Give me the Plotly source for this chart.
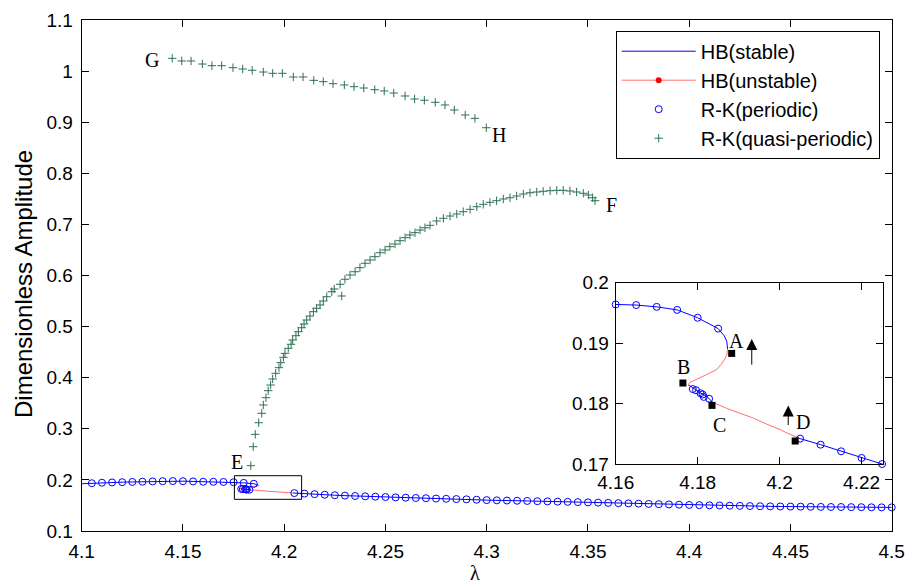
import numpy as np
import plotly.graph_objects as go

# ---------------- data ----------------
# HB stable branch 1 (up to turning point A)
hb_s1_x = [4.100, 4.105, 4.110, 4.115, 4.120, 4.125, 4.130, 4.135, 4.140, 4.145, 4.150, 4.155,
           4.160, 4.165, 4.170, 4.175, 4.180, 4.185, 4.1865, 4.1871, 4.1873, 4.1873]
hb_s1_y = [0.1925, 0.1935, 0.1945, 0.1950, 0.1955, 0.1960, 0.1965, 0.1970, 0.1975, 0.1977, 0.1975, 0.1970,
           0.1964, 0.1963, 0.1960, 0.1955, 0.1942, 0.1924, 0.1912, 0.1903, 0.1896, 0.1890]
# HB unstable A -> B
hb_u1_x = [4.1873, 4.1871, 4.1862, 4.1846, 4.1822, 4.1798, 4.1781, 4.1777]
hb_u1_y = [0.1890, 0.1880, 0.1869, 0.1856, 0.1848, 0.1840, 0.1835, 0.1831]
# HB stable B -> C
hb_s2_x = [4.1777, 4.1789, 4.1806, 4.1822, 4.1837]
hb_s2_y = [0.1831, 0.1825, 0.1818, 0.1812, 0.1802]
# HB unstable C -> D
hb_u2_x = [4.1837, 4.1846, 4.1871, 4.1903, 4.1936, 4.1968, 4.2001, 4.2025, 4.2043]
hb_u2_y = [0.1802, 0.1799, 0.1792, 0.1784, 0.1776, 0.1766, 0.1757, 0.1749, 0.1744]
# HB stable after D
hb_s3_x = [4.2043, 4.205, 4.210, 4.215, 4.220, 4.225, 4.230, 4.240, 4.250, 4.260, 4.270, 4.280,
           4.290, 4.300, 4.320, 4.340, 4.360, 4.380, 4.400, 4.420, 4.440, 4.460, 4.480, 4.500]
hb_s3_y = [0.1744, 0.1742, 0.1732, 0.1721, 0.1710, 0.1700, 0.1692, 0.1678, 0.1665, 0.1652, 0.1641, 0.1630,
           0.1620, 0.1604, 0.1588, 0.1570, 0.1550, 0.1530, 0.1510, 0.1495, 0.1482, 0.1474, 0.1467, 0.1462]

# R-K periodic
rk_p_x = [4.105, 4.110, 4.115, 4.120, 4.125, 4.130, 4.135, 4.140, 4.145, 4.150, 4.155, 4.160,
          4.165, 4.170, 4.175, 4.180, 4.185,
          4.1788, 4.1796, 4.1807, 4.1812, 4.1815, 4.1828,
          4.205, 4.210, 4.215, 4.220, 4.225, 4.230, 4.235, 4.240, 4.245, 4.250, 4.255, 4.260,
          4.265, 4.270, 4.275, 4.280, 4.285, 4.290, 4.295, 4.300, 4.305, 4.310, 4.315, 4.320,
          4.325, 4.330, 4.335, 4.340, 4.345, 4.350, 4.355, 4.360, 4.365, 4.370, 4.375, 4.380,
          4.385, 4.390, 4.395, 4.400, 4.405, 4.410, 4.415, 4.420, 4.425, 4.430, 4.435, 4.440,
          4.445, 4.450, 4.455, 4.460, 4.465, 4.470, 4.475, 4.480, 4.485, 4.490, 4.495, 4.500]
rk_p_y = [0.1935, 0.1945, 0.1950, 0.1955, 0.1960, 0.1965, 0.1970, 0.1975, 0.1977, 0.1975, 0.1970, 0.1964,
          0.1963, 0.1960, 0.1955, 0.1942, 0.1924,
          0.1824, 0.1822, 0.1817, 0.1815, 0.1811, 0.1808,
          0.1742, 0.1732, 0.1721, 0.1710, 0.1700, 0.1692, 0.1685, 0.1678, 0.1671, 0.1665, 0.1658, 0.1652,
          0.1646, 0.1641, 0.1635, 0.1630, 0.1625, 0.1620, 0.1612, 0.1604, 0.1600, 0.1596, 0.1592, 0.1588,
          0.1583, 0.1579, 0.1574, 0.1570, 0.1565, 0.1560, 0.1555, 0.1550, 0.1545, 0.1540, 0.1535, 0.1530,
          0.1525, 0.1520, 0.1515, 0.1510, 0.1506, 0.1502, 0.1499, 0.1495, 0.1492, 0.1488, 0.1485, 0.1482,
          0.1480, 0.1478, 0.1476, 0.1474, 0.1472, 0.1470, 0.1469, 0.1467, 0.1466, 0.1464, 0.1463, 0.1462]

# R-K quasi-periodic, upper branch G-H
qp_hi_x = [4.1447, 4.1494, 4.1540, 4.1596, 4.1643, 4.1691, 4.1747, 4.1795, 4.1842, 4.1897, 4.1943,
           4.1991, 4.2045, 4.2093, 4.2146, 4.2193, 4.2241, 4.2297, 4.2345, 4.2393, 4.2447, 4.2494,
           4.2541, 4.2597, 4.2644, 4.2692, 4.2746, 4.2794, 4.2840, 4.2894, 4.2942, 4.2998]
qp_hi_y = [1.0250, 1.0198, 1.0198, 1.0139, 1.0106, 1.0106, 1.0067, 1.0041, 1.0016, 0.9982, 0.9957,
           0.9957, 0.9885, 0.9885, 0.9819, 0.9793, 0.9754, 0.9728, 0.9695, 0.9669, 0.9636, 0.9611,
           0.9571, 0.9513, 0.9454, 0.9429, 0.9389, 0.9337, 0.9239, 0.9141, 0.9076, 0.8892]
# R-K quasi-periodic, lower branch E-F
qp_lo_x = [4.1835, 4.1847, 4.1857, 4.1874, 4.1889, 4.1897, 4.1910, 4.1921, 4.1933, 4.1943, 4.1958,
           4.1974, 4.1983, 4.1996, 4.2004, 4.2020, 4.2034, 4.2042, 4.2058, 4.2070, 4.2086, 4.2098,
           4.2111, 4.2127, 4.2144, 4.2160, 4.2177, 4.2193, 4.2210, 4.2235, 4.2247, 4.2284, 4.2276,
           4.2300, 4.2325, 4.2350, 4.2374, 4.2399, 4.2424, 4.2448, 4.2473, 4.2498, 4.2522, 4.2547,
           4.2572, 4.2597, 4.2621, 4.2646, 4.2671, 4.2695, 4.2720, 4.2753, 4.2786, 4.2819, 4.2852,
           4.2884, 4.2918, 4.2951, 4.2983, 4.3016, 4.3049, 4.3082, 4.3115, 4.3148, 4.3181, 4.3214,
           4.3247, 4.3279, 4.3313, 4.3346, 4.3378, 4.3411, 4.3444, 4.3477, 4.3502, 4.3523, 4.3535]
qp_lo_y = [0.2278, 0.2650, 0.2892, 0.3119, 0.3303, 0.3466, 0.3609, 0.3746, 0.3857, 0.3975, 0.4086,
           0.4196, 0.4294, 0.4399, 0.4477, 0.4575, 0.4654, 0.4738, 0.4822, 0.4900, 0.4978, 0.5051,
           0.5129, 0.5207, 0.5292, 0.5358, 0.5423, 0.5501, 0.5585, 0.5683, 0.5736, 0.5599, 0.5828,
           0.5926, 0.6010, 0.6074, 0.6153, 0.6239, 0.6303, 0.6368, 0.6446, 0.6499, 0.6564, 0.6616,
           0.6681, 0.6740, 0.6793, 0.6838, 0.6890, 0.6935, 0.6982, 0.7067, 0.7119, 0.7164, 0.7204,
           0.7249, 0.7295, 0.7346, 0.7393, 0.7432, 0.7464, 0.7497, 0.7522, 0.7556, 0.7595, 0.7620,
           0.7634, 0.7648, 0.7659, 0.7667, 0.7667, 0.7654, 0.7634, 0.7609, 0.7575, 0.7522, 0.7464]

# bifurcation points (inset)
pt_x = [4.1883, 4.1764, 4.1835, 4.2038]
pt_y = [0.1883, 0.1834, 0.1797, 0.1738]
pt_labels = ["A", "B", "C", "D"]
pt_lab_x = [4.1895, 4.1765, 4.1854, 4.2056]
pt_lab_y = [0.1904, 0.1861, 0.1764, 0.1769]

# branch labels (main)
br_labels = ["G", "H", "F", "E"]
br_lab_x = [4.1349, 4.3062, 4.3617, 4.1765]
br_lab_y = [1.0217, 0.8750, 0.7380, 0.2356]

# arrows (inset): x, y_tail, y_head
arr_x = [4.1932, 4.2021]
arr_y0 = [0.1862, 0.1762]
arr_y1 = [0.1907, 0.1797]

# zoom box in main plot
box_x = [4.1754, 4.2086]
box_y = [0.1620, 0.2082]

# ticks
main_xticks = [4.1, 4.15, 4.2, 4.25, 4.3, 4.35, 4.4, 4.45, 4.5]
main_xtext = ["4.1", "4.15", "4.2", "4.25", "4.3", "4.35", "4.4", "4.45", "4.5"]
main_yticks = [0.1, 0.2, 0.3, 0.4, 0.5, 0.6, 0.7, 0.8, 0.9, 1.0, 1.1]
main_ytext = ["0.1", "0.2", "0.3", "0.4", "0.5", "0.6", "0.7", "0.8", "0.9", "1", "1.1"]
ins_xticks = [4.16, 4.18, 4.2, 4.22]
ins_xtext = ["4.16", "4.18", "4.2", "4.22"]
ins_yticks = [0.17, 0.18, 0.19, 0.2]
ins_ytext = ["0.17", "0.18", "0.19", "0.2"]

# ---------------- layout helpers (page body has an 8px margin) ----------------
OFF = 8
W, H = 917 - OFF, 587 - OFF

def fx(px):
    return (px - OFF) / W

def fy(py):
    return 1 - (py - OFF) / H

# ---------------- styles ----------------
BLUE = "#0000ff"
RED = "#ff7070"
GREEN = "#2f7052"
SANS = "Liberation Sans, Arial, sans-serif"
SERIF = "Liberation Serif, Times New Roman, serif"

fig = go.Figure()

def add_hb(xa, ya, xs, ys, color, name=None, show=False, rank=1):
    fig.add_trace(go.Scatter(x=xs, y=ys, mode="lines", line=dict(color=color, width=1),
                             xaxis=xa, yaxis=ya, name=name, showlegend=show, legendrank=rank,
                             hoverinfo="skip"))

for xa, ya in [("x", "y"), ("x2", "y2")]:
    first = xa == "x"
    add_hb(xa, ya, hb_s1_x, hb_s1_y, BLUE, "HB(stable)", first, 1)
    add_hb(xa, ya, hb_s2_x, hb_s2_y, BLUE)
    add_hb(xa, ya, hb_s3_x, hb_s3_y, BLUE)
    add_hb(xa, ya, hb_u1_x, hb_u1_y, RED)
    add_hb(xa, ya, hb_u2_x, hb_u2_y, RED)

# legend proxy for unstable (line with dot)
fig.add_trace(go.Scatter(x=[None], y=[None], mode="lines+markers", name="HB(unstable)",
                         line=dict(color=RED, width=1), marker=dict(color="#ff0000", size=6),
                         legendrank=2, xaxis="x", yaxis="y"))

# periodic circles
fig.add_trace(go.Scatter(x=rk_p_x, y=rk_p_y, mode="markers", name="R-K(periodic)",
                         marker=dict(symbol="circle-open", size=7, color=BLUE, line=dict(width=1, color=BLUE)),
                         legendrank=3, cliponaxis=False, xaxis="x", yaxis="y"))
px_arr = np.array(rk_p_x)
py_arr = np.array(rk_p_y)
mask = (px_arr >= 4.16) & (px_arr <= 4.2260) & (py_arr >= 0.1695) & (py_arr <= 0.2)
fig.add_trace(go.Scatter(x=px_arr[mask], y=py_arr[mask], mode="markers", showlegend=False,
                         marker=dict(symbol="circle-open", size=7, color=BLUE, line=dict(width=1, color=BLUE)),
                         cliponaxis=False, xaxis="x2", yaxis="y2"))

# quasi-periodic crosses
for i, (qx, qy) in enumerate([(qp_hi_x, qp_hi_y), (qp_lo_x, qp_lo_y)]):
    fig.add_trace(go.Scatter(x=qx, y=qy, mode="markers", name="R-K(quasi-periodic)",
                             showlegend=(i == 0), legendrank=4,
                             marker=dict(symbol="cross-thin", size=6, color=GREEN, line=dict(width=1, color=GREEN)),
                             xaxis="x", yaxis="y"))

# bifurcation squares
fig.add_trace(go.Scatter(x=pt_x, y=pt_y, mode="markers", showlegend=False,
                         marker=dict(symbol="square", size=7, color="black"),
                         cliponaxis=False, xaxis="x2", yaxis="y2"))

# annotations
ann = []
for t, x, y in zip(br_labels, br_lab_x, br_lab_y):
    ann.append(dict(x=x, y=y, xref="x", yref="y", text=t, showarrow=False,
                    xanchor="center", yanchor="middle",
                    font=dict(family=SERIF, size=20, color="black")))
for t, x, y in zip(pt_labels, pt_lab_x, pt_lab_y):
    ann.append(dict(x=x, y=y, xref="x2", yref="y2", text=t, showarrow=False,
                    xanchor="center", yanchor="middle",
                    font=dict(family=SERIF, size=20, color="black")))
for x, y0, y1 in zip(arr_x, arr_y0, arr_y1):
    ann.append(dict(x=x, y=y1, ax=x, ay=y0, xref="x2", yref="y2", axref="x2", ayref="y2",
                    text="", showarrow=True, arrowhead=2, arrowsize=2.2, arrowwidth=1,
                    arrowcolor="black"))
ann.append(dict(x=fx(475), y=fy(573), xref="paper", yref="paper", text="λ", showarrow=False,
                xanchor="center", yanchor="middle",
                font=dict(family=SERIF, size=20, color="black")))
ann.append(dict(x=fx(24), y=fy(284), xref="paper", yref="paper", text="Dimensionless Amplitude",
                showarrow=False, textangle=-90, xanchor="center", yanchor="middle",
                font=dict(family=SANS, size=24, color="black")))

axis_common = dict(showline=True, linecolor="black", linewidth=1, mirror="ticks", ticks="inside",
                   ticklen=7, tickcolor="black", showgrid=False, zeroline=False, automargin=False,
                   tickfont=dict(family=SANS, size=19, color="black"))

fig.update_layout(
    width=W, height=H,
    margin=dict(l=0, r=0, t=0, b=0, autoexpand=False),
    paper_bgcolor="white", plot_bgcolor="white",
    xaxis=dict(domain=[fx(81.7), fx(891.7)], range=[4.1, 4.5], tickvals=main_xticks,
               ticktext=main_xtext, anchor="y", ticklabelstandoff=3, **axis_common),
    yaxis=dict(domain=[fy(531), fy(20)], range=[0.1, 1.1], tickvals=main_yticks,
               ticktext=main_ytext, anchor="x", ticklabelstandoff=4, **axis_common),
    xaxis2=dict(domain=[fx(615.7), fx(883.3)], range=[4.16, 4.2253], tickvals=ins_xticks,
                ticktext=ins_xtext, anchor="y2", ticklabelstandoff=1, **axis_common),
    yaxis2=dict(domain=[fy(464), fy(282.7)], range=[0.17, 0.2], tickvals=ins_yticks,
                ticktext=ins_ytext, anchor="x2", ticklabelstandoff=2, **axis_common),
    shapes=[dict(type="rect", xref="x", yref="y", x0=box_x[0], x1=box_x[1], y0=box_y[0], y1=box_y[1],
                 line=dict(color="black", width=1))],
    annotations=ann,
    legend=dict(x=fx(615.7), y=fy(30.7), xanchor="left", yanchor="top",
                bordercolor="black", borderwidth=1, bgcolor="white",
                font=dict(family=SANS, size=20, color="black"), itemwidth=74, tracegroupgap=0),
    showlegend=True,
)

fig.write_html("out.html")
